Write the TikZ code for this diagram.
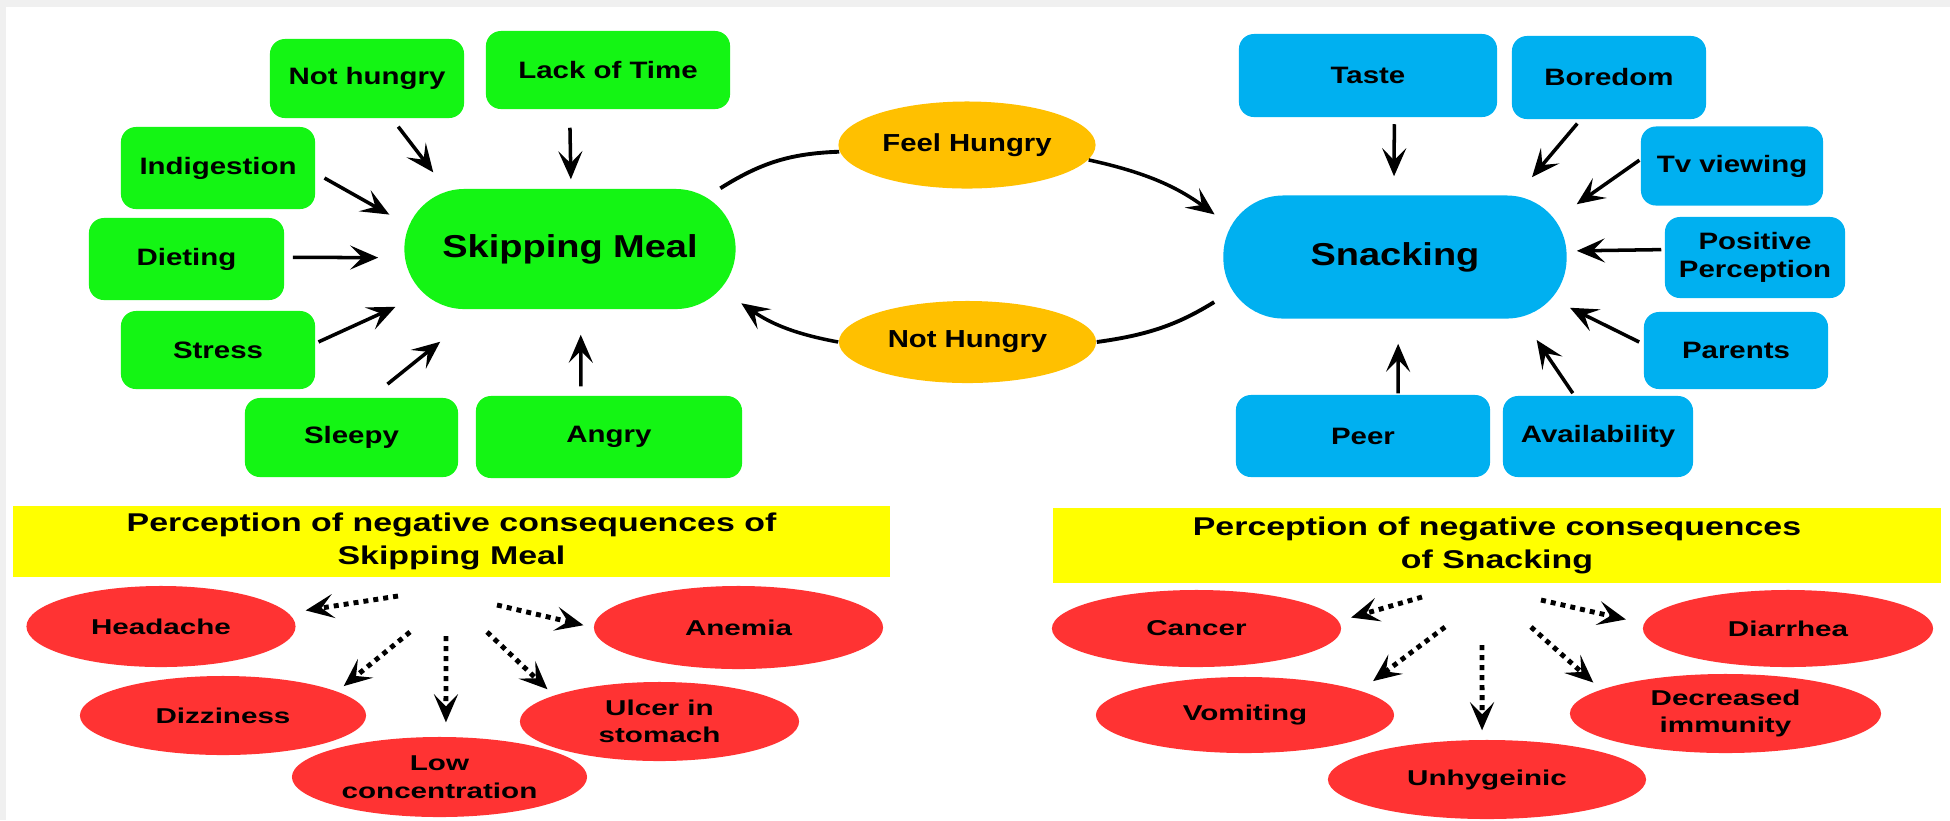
\documentclass[tikz,border=0pt]{standalone}
\usepackage{fontspec}
\usetikzlibrary{arrows.meta,shapes.geometric}
\newfontfamily\boxfont[FakeStretch=1.24]{Liberation Sans}
\newfontfamily\hubfont[FakeStretch=1.2]{Liberation Sans}
\newfontfamily\ovalfont[FakeStretch=1.19]{Liberation Sans}
\newfontfamily\headfont[FakeStretch=1.32]{Liberation Sans}
\newfontfamily\effectfont[FakeStretch=1.38]{Liberation Sans}
\definecolor{leafgreen}{RGB}{20,245,20}
\definecolor{skyblue}{RGB}{0,176,240}
\definecolor{gold}{RGB}{255,192,0}
\definecolor{bannery}{RGB}{255,255,0}
\definecolor{tomato}{RGB}{255,51,51}
\definecolor{framegray}{RGB}{240,240,240}

\begin{document}
\begin{tikzpicture}[x=0.01cm, y=-0.01cm,
    cause/.style = {fill=leafgreen, rounded corners=0.15cm, inner sep=0pt, align=center, font=\boxfont\bfseries\fontsize{6.75}{8.1}\selectfont},
    factor/.style = {cause, fill=skyblue},
    hub/.style = {rounded corners=0.6cm, inner sep=0pt, font=\hubfont\bfseries\fontsize{9}{11}\selectfont},
    mood/.style = {ellipse, fill=gold, inner sep=0pt, font=\ovalfont\bfseries\fontsize{7}{8.5}\selectfont},
    banner/.style = {fill=bannery, inner sep=0pt, align=center, font=\headfont\bfseries\fontsize{7.3}{9.4}\selectfont},
    effect/.style = {ellipse, fill=tomato, inner sep=0pt, align=center, font=\effectfont\bfseries\fontsize{6.1}{7.8}\selectfont},
    arr/.style = {-{Stealth[length=0.28cm,width=0.24cm,inset=0.12cm]}, line width=1pt},
    dotarr/.style = {arr, line width=1.4pt, dash pattern=on 0.05cm off 0.05cm},
    cycleline/.style = {line width=1.1pt}]
    \fill[white] (0,0) rectangle (1950,820);
    \fill[framegray] (0,0) rectangle (1950,7);
    \fill[framegray] (0,0) rectangle (6,820);
    \useasboundingbox (0,0) rectangle (1950,820);

    \node[hub, fill=leafgreen, minimum width=3.31cm, minimum height=1.2cm] (skip) at (570,249) {Skipping Meal};
    \node[cause, minimum width=1.94cm, minimum height=0.79cm] (nothungry) at (367,78.5) {Not hungry};
    \node[cause, minimum width=2.44cm, minimum height=0.78cm] (time) at (608,70) {Lack of Time};
    \node[cause, minimum width=1.94cm, minimum height=0.82cm] (indig) at (218,168) {Indigestion};
    \node[cause, minimum width=1.95cm, minimum height=0.82cm] (diet) at (186.5,259) {Dieting};
    \node[cause, minimum width=1.94cm, minimum height=0.78cm] (stress) at (218,350) {Stress};
    \node[cause, minimum width=2.13cm, minimum height=0.79cm] (sleepy) at (351.5,437.5) {Sleepy};
    \node[cause, minimum width=2.66cm, minimum height=0.82cm] (angry) at (609,437) {Angry};

    \node[hub, fill=skyblue, minimum width=3.43cm, minimum height=1.23cm] (snack) at (1395,257) {Snacking};
    \node[factor, minimum width=2.58cm, minimum height=0.83cm] (taste) at (1368,75.5) {Taste};
    \node[factor, minimum width=1.94cm, minimum height=0.83cm] (bored) at (1609,77.5) {Boredom};
    \node[factor, minimum width=1.82cm, minimum height=0.79cm] (tv) at (1732,166) {Tv viewing};
    \node[factor, minimum width=1.80cm, minimum height=0.81cm] (posit) at (1755,257.5) {Positive\\Perception};
    \node[factor, minimum width=1.84cm, minimum height=0.77cm] (parents) at (1736,350.5) {Parents};
    \node[factor, minimum width=1.90cm, minimum height=0.81cm] (avail) at (1598,436.5) {Availability};
    \node[factor, minimum width=2.54cm, minimum height=0.82cm] (peer) at (1363,436) {Peer};

    \node[mood, minimum width=2.57cm, minimum height=0.87cm] (hungry) at (967,145) {Feel Hungry};
    \node[mood, minimum width=2.57cm, minimum height=0.82cm] (full) at (967.5,342) {Not Hungry};

    \node[banner, minimum width=8.77cm, minimum height=0.71cm] (lhead) at (451.5,541.5) {Perception of negative consequences of\\Skipping Meal};
    \node[banner, minimum width=8.88cm, minimum height=0.75cm] (rhead) at (1497,545.5) {Perception of negative consequences\\of Snacking};

    \node[effect, minimum width=2.69cm, minimum height=0.81cm] (headache) at (161,626.5) {Headache};
    \node[effect, minimum width=2.86cm, minimum height=0.79cm] (dizzy) at (223,715.5) {Dizziness};
    \node[effect, minimum width=2.95cm, minimum height=0.80cm] (lowconc) at (439.5,777) {Low\\concentration};
    \node[effect, minimum width=2.79cm, minimum height=0.79cm] (ulcer) at (659.5,721.5) {Ulcer in\\stomach};
    \node[effect, minimum width=2.89cm, minimum height=0.83cm] (anemia) at (738.5,627.5) {Anemia};
    \node[effect, minimum width=2.89cm, minimum height=0.77cm] (cancer) at (1196.5,628.5) {Cancer};
    \node[effect, minimum width=2.98cm, minimum height=0.76cm] (vomit) at (1245,715) {Vomiting};
    \node[effect, minimum width=3.18cm, minimum height=0.79cm] (unhyg) at (1487,779.5) {Unhygeinic};
    \node[effect, minimum width=3.11cm, minimum height=0.79cm] (immun) at (1725.5,713.5) {Decreased\\immunity};
    \node[effect, minimum width=2.90cm, minimum height=0.77cm] (diarr) at (1788,628.5) {Diarrhea};

    \draw[arr, shorten <=0.10cm, shorten >=0.20cm] (nothungry.-58) -- (skip.154);
    \draw[arr, shorten <=0.18cm, shorten >=0.09cm] (time.-134) -- (skip.89);
    \draw[arr, shorten <=0.10cm, shorten >=0.165cm] (indig.-3) -- (skip.171);
    \draw[arr, shorten <=0.08cm, shorten >=0.255cm] (diet.1) -- (skip.183);
    \draw[arr, shorten <=0.03cm, shorten >=0.09cm] (stress.4) -- (skip.-162);
    \draw[arr, shorten <=0.21cm, shorten >=0.51cm] (sleepy.64) -- (skip.-146.5);
    \draw[arr, shorten <=0.09cm, shorten >=0.25cm] (angry.124) -- (skip.-80);

    \draw[arr, shorten <=0.065cm, shorten >=0.185cm] (taste.-58) -- (snack.91);
    \draw[arr, shorten <=0.05cm, shorten >=0.23cm] (bored.-124) -- (snack.27);
    \draw[arr, shorten <=0.01cm, shorten >=0.115cm] (tv.176) -- (snack.15);
    \draw[arr, shorten <=0.03cm, shorten >=0.095cm] (posit.175) -- (snack.2);
    \draw[arr, shorten <=0.045cm, shorten >=0.03cm] (parents.176) -- (snack.-16);
    \draw[arr, shorten <=0.025cm, shorten >=0.25cm] (avail.120) -- (snack.-26);
    \draw[arr, shorten <=0.01cm, shorten >=0.245cm] (peer.50) -- (snack.-87);

    \draw[cycleline] (skip.22) to[bend left=15] (hungry.183);
    \draw[cycleline, arr, shorten >=0.10cm] (hungry.-7) to[bend left=12] (snack.168);
    \draw[cycleline, shorten <=0.10cm] (snack.193) to[bend left=12] (full.east);
    \draw[cycleline, arr, shorten >=0.06cm] (full.west) to[bend left=12] (skip.-17);

    \coordinate (l1) at (398,596);
    \coordinate (l2) at (410,632);
    \coordinate (l3) at (446,636);
    \coordinate (l4) at (487,632);
    \coordinate (l5) at (497,605);
    \draw[dotarr, shorten >=0.17cm] (l1) -- (headache.6);
    \draw[dotarr, shorten >=0.08cm] (l2) -- (dizzy.12);
    \draw[dotarr, shorten >=0.14cm] (l3) -- (lowconc.81);
    \draw[dotarr, shorten >=0.085cm] (l4) -- (ulcer.166);
    \draw[dotarr, shorten >=0.10cm] (l5) -- (anemia.west);

    \coordinate (r1) at (1422,597);
    \coordinate (r2) at (1445,627);
    \coordinate (r3) at (1482,645);
    \coordinate (r4) at (1531,627);
    \coordinate (r5) at (1541,600);
    \draw[dotarr, shorten >=0.125cm] (r1) -- (cancer.3);
    \draw[dotarr, shorten >=0.155cm] (r2) -- (vomit.12);
    \draw[dotarr, shorten >=0.09cm] (r3) -- (unhyg.97);
    \draw[dotarr, shorten >=0.10cm] (r4) -- (immun.169);
    \draw[dotarr, shorten >=0.18cm] (r5) -- (diarr.178);
\end{tikzpicture}
\end{document}
